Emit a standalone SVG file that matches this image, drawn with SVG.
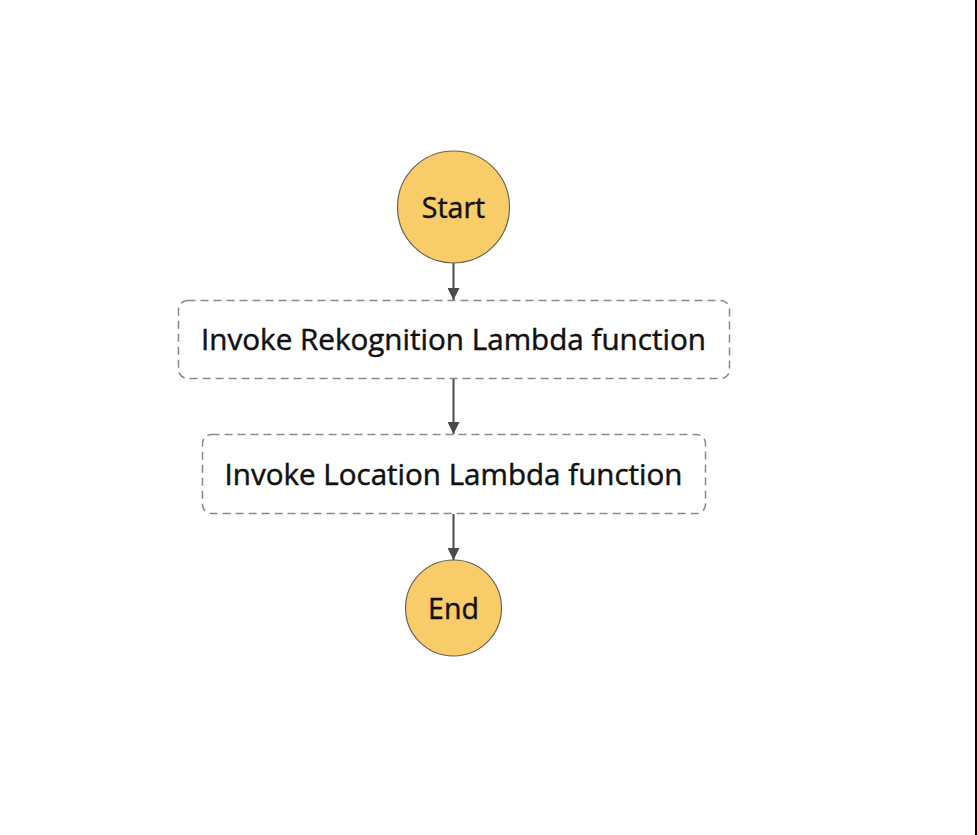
<svg xmlns="http://www.w3.org/2000/svg" width="977" height="835" viewBox="0 0 977 835">
<style>
.bg{fill:#ffffff}
.term{fill:#f9cc6a;stroke:#6b6251;stroke-width:1.2}
.task{fill:#ffffff;stroke:#8a8a8a;stroke-width:1.5;stroke-dasharray:8 5}
.lbl{font-family:"Open Sans","Noto Sans",sans-serif;font-size:28.5px;font-weight:500;fill:#111111;stroke:#111111;stroke-width:0.45;text-anchor:middle}
.edge{stroke:#4a4a4a;stroke-width:2;fill:none}
</style>
<defs>
<marker id="arr" viewBox="0 0 10 10" refX="10" refY="5" markerWidth="6" markerHeight="6" orient="auto" markerUnits="strokeWidth">
<path d="M0,0 L10,5 L0,10 z" fill="#4a4a4a"/>
</marker>
</defs>
<rect class="bg" x="0" y="0" width="977" height="835"/>
<line x1="976" y1="0" x2="976" y2="835" stroke="#000" stroke-width="2"/>
<g id="connectors">
<line class="edge" x1="453.5" y1="263" x2="453.5" y2="300" marker-end="url(#arr)"/>
<line class="edge" x1="453.5" y1="379" x2="453.5" y2="434" marker-end="url(#arr)"/>
<line class="edge" x1="453.5" y1="514" x2="453.5" y2="560" marker-end="url(#arr)"/>
</g>
<g id="start">
<circle class="term" cx="453.5" cy="207" r="56"/>
<text class="lbl" x="453.5" y="218">Start</text>
</g>
<g id="rekognition">
<rect class="task" x="178.5" y="300.5" width="551" height="78" rx="9"/>
<text class="lbl" x="453.5" y="350" textLength="505" lengthAdjust="spacingAndGlyphs">Invoke Rekognition Lambda function</text>
</g>
<g id="location">
<rect class="task" x="202.5" y="434.5" width="503" height="79" rx="9"/>
<text class="lbl" x="453.5" y="484.5" textLength="458" lengthAdjust="spacingAndGlyphs">Invoke Location Lambda function</text>
</g>
<g id="end">
<circle class="term" cx="453.5" cy="608" r="48"/>
<text class="lbl" x="453.5" y="618.5">End</text>
</g>
</svg>
